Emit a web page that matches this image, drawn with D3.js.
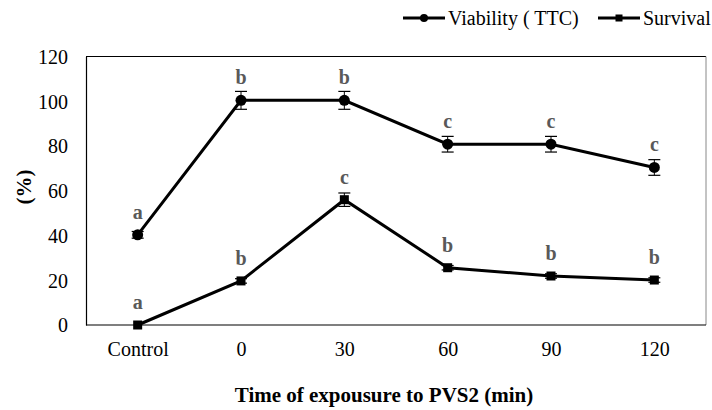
<!DOCTYPE html>
<html>
<head>
<meta charset="utf-8">
<script src="https://cdn.jsdelivr.net/npm/d3@7"></script>
<style>
  body { margin: 0; background: #fff; }
  svg { display: block; }
</style>
</head>
<body>
<svg id="chart"></svg>
<script>
const width = 712;
const height = 410;
const serif = "Liberation Serif";

// data
const categories = ["Control", "0", "30", "60", "90", "120"];
const viability = [40.3, 100.4, 100.4, 80.8, 80.8, 70.4];
const viabilityErr = [1.5, 4, 4, 3.5, 3.5, 3.5];
const viabilityLetters = ["a", "b", "b", "c", "c", "c"];
const survival = [0, 19.7, 56, 25.6, 21.9, 20.1];
const survivalErr = [0, 1, 3, 1, 1, 1];
const survivalLetters = ["a", "b", "c", "b", "b", "b"];
const yTicks = [0, 20, 40, 60, 80, 100, 120];

const plotLeft = 86, plotRight = 706, plotTop = 56.5, plotBottom = 325;

const svg = d3.select("#chart").attr("width", width).attr("height", height);

const x = d3.scalePoint().domain(categories).range([plotLeft, plotRight]).padding(0.5);
const y = d3.scaleLinear().domain([0, 120]).range([plotBottom, plotTop]);

// plot box
svg.append("line").attr("x1", plotLeft).attr("x2", plotRight).attr("y1", plotTop).attr("y2", plotTop)
    .attr("stroke", "#000").attr("stroke-width", 1);
svg.append("line").attr("x1", plotRight).attr("x2", plotRight).attr("y1", plotTop).attr("y2", plotBottom)
    .attr("stroke", "#888").attr("stroke-width", 1);

// y axis
const yAxis = svg.append("g")
    .attr("transform", `translate(${plotLeft},0)`)
    .call(d3.axisLeft(y).tickValues(yTicks).tickSize(0).tickPadding(18))
    .attr("font-family", serif).attr("font-size", 20);
yAxis.select(".domain").attr("stroke", "#000").attr("stroke-width", 1.2);
yAxis.selectAll("text").attr("fill", "#000").attr("dy", "0.34em");

// x axis
const xAxis = svg.append("g")
    .attr("transform", `translate(0,${plotBottom})`)
    .call(d3.axisBottom(x).tickSize(0).tickPadding(17))
    .attr("font-family", serif).attr("font-size", 20);
xAxis.select(".domain").attr("stroke", "#000").attr("stroke-width", 1.2)
    .attr("d", `M${plotLeft},0H${plotRight}`);
xAxis.selectAll("text").attr("fill", "#000");

// axis titles
svg.append("text")
    .attr("x", 384).attr("y", 402)
    .attr("text-anchor", "middle")
    .attr("font-family", serif)
    .attr("font-size", 21).attr("font-weight", "bold")
    .text("Time of expousure to PVS2 (min)");

svg.append("text")
    .attr("transform", "translate(31,187) rotate(-90)")
    .attr("text-anchor", "middle")
    .attr("font-family", serif)
    .attr("font-size", 21).attr("font-weight", "bold")
    .text("(%)");

const line = d3.line().x((d, i) => x(categories[i])).y(d => y(d));

function drawSeries(values, errs, letters, marker) {
    const g = svg.append("g");
    // error bars
    values.forEach((v, i) => {
        if (errs[i] <= 0) return;
        const cx = x(categories[i]);
        g.append("line").attr("x1", cx).attr("x2", cx)
            .attr("y1", y(v - errs[i])).attr("y2", y(v + errs[i]))
            .attr("stroke", "#000").attr("stroke-width", 1);
        [v - errs[i], v + errs[i]].forEach(e => {
            g.append("line").attr("x1", cx - 6).attr("x2", cx + 6)
                .attr("y1", y(e)).attr("y2", y(e))
                .attr("stroke", "#000").attr("stroke-width", 1.2);
        });
    });
    g.append("path").datum(values).attr("d", line)
        .attr("fill", "none").attr("stroke", "#000").attr("stroke-width", 3);
    values.forEach((v, i) => {
        const cx = x(categories[i]), cy = y(v);
        if (marker === "circle") {
            g.append("circle").attr("cx", cx).attr("cy", cy).attr("r", 5.5).attr("fill", "#000");
        } else {
            g.append("rect").attr("x", cx - 4.5).attr("y", cy - 4.5)
                .attr("width", 9).attr("height", 9).attr("fill", "#000");
        }
        g.append("text").attr("x", cx).attr("y", cy - 16)
            .attr("text-anchor", "middle")
            .attr("font-family", serif)
            .attr("font-size", 20).attr("font-weight", "bold").attr("fill", "#595959")
            .text(letters[i]);
    });
}

drawSeries(viability, viabilityErr, viabilityLetters, "circle");
drawSeries(survival, survivalErr, survivalLetters, "square");

// legend
const legend = [
    { name: "Viability ( TTC)", marker: "circle", x0: 403 },
    { name: "Survival", marker: "square", x0: 598 }
];
legend.forEach(d => {
    const lg = svg.append("g").attr("transform", `translate(${d.x0},18)`);
    lg.append("line").attr("x1", 0).attr("x2", 42).attr("stroke", "#000").attr("stroke-width", 3);
    if (d.marker === "circle") {
        lg.append("circle").attr("cx", 21).attr("r", 4).attr("fill", "#000");
    } else {
        lg.append("rect").attr("x", 17.5).attr("y", -3.5).attr("width", 7).attr("height", 7).attr("fill", "#000");
    }
    lg.append("text").attr("x", 45).attr("y", 6.5)
        .attr("font-family", serif)
        .attr("font-size", 20).attr("fill", "#000").text(d.name);
});
</script>
</body>
</html>
